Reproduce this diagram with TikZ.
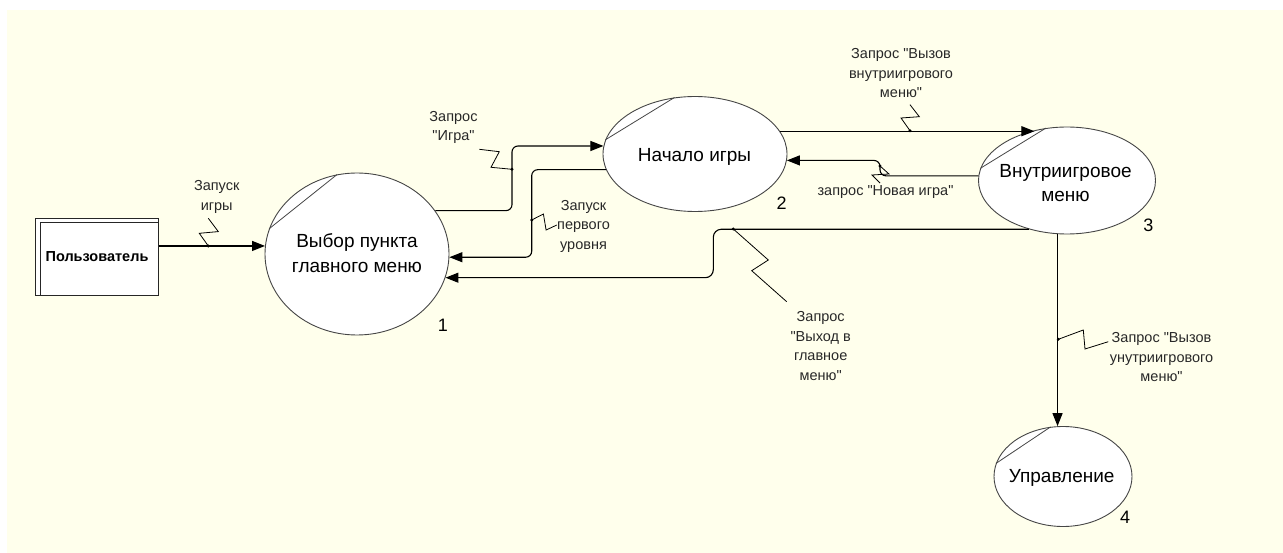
\documentclass[tikz,border=0pt]{standalone}
\usepackage{fontspec}
\setmainfont[Ligatures=TeXOff]{Liberation Sans}
\usetikzlibrary{arrows.meta,shapes.geometric,calc}

\definecolor{paper}{RGB}{255,255,236}
\definecolor{rim}{RGB}{70,70,70}
\definecolor{ink}{RGB}{40,40,40}

\begin{document}
\begin{tikzpicture}[x=1pt,y=-1pt,
  proc/.style={ellipse, draw=rim, fill=white, line width=0.9pt, inner sep=0pt},
  chord/.style={draw=rim, line width=0.8pt},
  ent/.style={rectangle, draw=black!85, fill=white, line width=0.9pt, inner sep=0pt,
    font=\bfseries\fontsize{14.5}{17}\selectfont},
  ptext/.style={font=\fontsize{19}{24.5}\selectfont, align=center, inner sep=0pt},
  pnum/.style={font=\fontsize{18}{20}\selectfont, inner sep=0pt},
  elabel/.style={font=\fontsize{14.5}{19.5}\selectfont, align=center, inner sep=0pt, text=ink},
  flow/.style={draw=black, line width=1.1pt, -{Triangle[length=13pt,width=10pt]}},
  zig/.style={draw=black, line width=0.8pt},
  dot/.style={fill=black}
]
\useasboundingbox (0,0) rectangle (1283,553);
\fill[white] (0,0) rectangle (1283,553);
\fill[paper] (7,10) rectangle (1283,553);

% external entity
\node[ent, minimum width=122.6pt, minimum height=76.7pt] (user) at (97,256.7) {Пользователь};
\draw[draw=black!85, line width=0.9pt] ($(user.south west)+(5,0)$) |- ($(user.north east)+(0,4.4)$);

% processes
\node[proc, minimum width=184pt, minimum height=162pt] (e1) at (357,254) {};
\node[proc, minimum width=184pt, minimum height=115pt] (e2) at (695,154) {};
\node[proc, minimum width=177pt, minimum height=107pt] (e3) at (1067,180.5) {};
\node[proc, minimum width=138pt, minimum height=100pt] (e4) at (1063,476.5) {};

\draw[chord] (e1.164.7) -- (e1.104.4);
\draw[chord] (e2.171.2) -- (e2.110.9);
\draw[chord] (e3.172) -- (e3.112.2);
\draw[chord] (e4.169.4) -- (e4.104.6);

\node[ptext] (t1) at (357,253) {Выбор пункта\\главного меню};
\node[ptext] (t2) at (694.5,156.7) {Начало игры};
\node[ptext] (t3) at (1065.5,183) {Внутриигровое\\меню};
\node[ptext] (t4) at (1061.7,477.7) {Управление};

\node[pnum] (n1) at (443,325) {1};
\node[pnum] (n2) at (781.7,203.3) {2};
\node[pnum] (n3) at (1148.3,225) {3};
\node[pnum] (n4) at (1125,517.3) {4};

% bend and label points on the flows
\coordinate (k1) at (208.3,246);
\coordinate (k2) at (512,169.3);
\coordinate (k3) at (531.7,220);
\coordinate (k4) at (910,130.7);
\coordinate (k5) at (880,166);
\coordinate (k6) at (733.3,229);
\coordinate (b6) at (713.3,229);
\coordinate (k7) at (1058.3,339.3);

% flows
\draw[flow] (user.east |- e1.175) -- (e1.175);
\draw[flow, rounded corners=6pt] (e1.29.7) -| (k2 |- e2.175) -- (e2.175);
\draw[flow, rounded corners=6pt] (e2.190.7) -| (k3 |- e1.358.3) -- (e1.358.3);
\draw[flow] (e2.15.5) -- (e2.15.5 -| e3.123);
\draw[flow, rounded corners=6pt] (e3.177.9) -| (k5 |- e2.356.7) -- (e2.356.7);
\draw[flow, rounded corners=8pt] (e3.232.4) -| (b6 |- e1.345.6) -- (e1.345.6);
\draw[flow] (e3.260.7) -- (e3.260.7 |- e4.95.4);

% flow labels with their zigzag leaders
\fill[dot] (k1) circle (1.6pt);
\draw[zig] (k1) -- ++(-9,-12.7) -- ++(19,-1.7) -- ++(-10,-13.3);
\node[elabel] (l1) at (216.7,197) {Запуск\\игры};

\fill[dot] (k2) circle (1.6pt);
\draw[zig] (k2) -- ++(-21,-2) -- ++(8.3,-15.6) -- ++(-20,-2.4);
\node[elabel] (l2) at (453.5,127.5) {Запрос\\"Игра"};

\fill[dot] (k3) circle (1.6pt);
\draw[zig] (k3) -- ++(11.7,-6) -- ++(2.7,16) -- ++(10.7,-5);
\node[elabel] (l3) at (583.5,226.3) {Запуск\\первого\\уровня};

\fill[dot] (k4) circle (1.6pt);
\draw[zig] (k4) -- ++(-9,-12.7) -- ++(18.3,-1.3) -- ++(-9.3,-12);
\node[elabel] (l4) at (901,73.5) {Запрос "Вызов\\внутриигрового\\меню"};

\fill[dot] (k5) circle (1.6pt);
\draw[zig] (k5) -- ++(9,8) -- ++(-17,1) -- ++(8,8);
\node[elabel] (l5) at (885.5,191.7) {запрос "Новая игра"};

\fill[dot] (k6) circle (1.6pt);
\draw[zig] (k6) -- ++(35,31) -- ++(-16.6,10.7) -- ++(35,31);
\node[elabel] (l6) at (820.7,346) {Запрос\\"Выход в\\главное\\меню"};

\fill[dot] (k7) circle (1.6pt);
\draw[zig] (k7) -- ++(25,-9.3) -- ++(1.7,19) -- ++(23.3,-7.3);
\node[elabel] (l7) at (1161.5,357.3) {Запрос "Вызов\\унутриигрового\\меню"};
\end{tikzpicture}
\end{document}
